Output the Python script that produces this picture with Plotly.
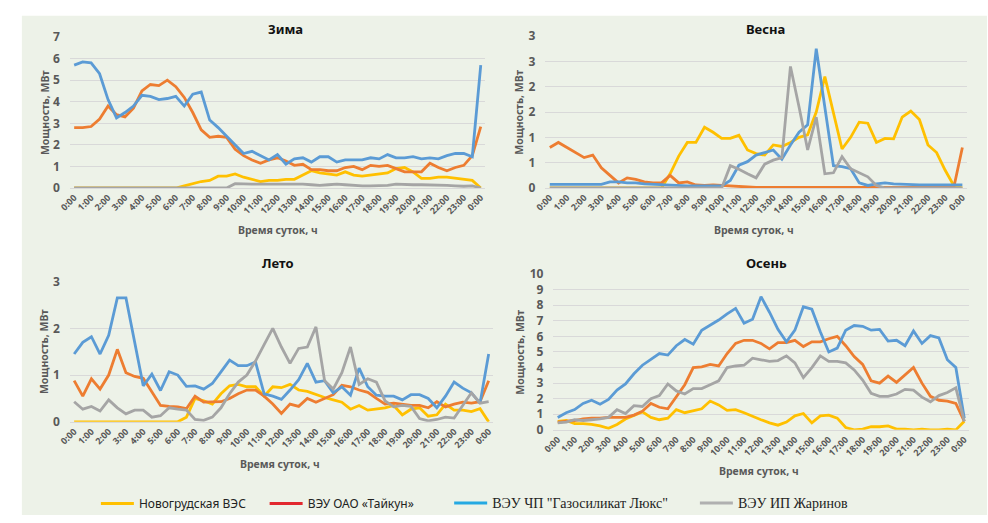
import plotly.graph_objects as go

# Half-hour time slots, expressed in hours since midnight
HOURS = [i / 2 for i in range(49)]
TICK_POS = list(range(25))
TICK_TEXT = ["0:00", "1:00", "2:00", "3:00", "4:00", "5:00", "6:00", "7:00", "8:00",
             "9:00", "10:00", "11:00", "12:00", "13:00", "14:00", "15:00", "16:00",
             "17:00", "18:00", "19:00", "20:00", "21:00", "22:00", "23:00", "0:00"]

SERIES_NAMES = ["Новогрудская ВЭС", "ВЭУ ОАО «Тайкун»",
                'ВЭУ ЧП "Газосиликат Люкс"', "ВЭУ ИП Жаринов"]

# ---- Зима ----
WINTER_NOV = [0] * 13 + [0.1, 0.2, 0.3, 0.35, 0.55, 0.55, 0.65, 0.5, 0.4, 0.3, 0.35, 0.35,
                         0.4, 0.4, 0.6, 0.8, 0.7, 0.65, 0.6, 0.75, 0.6, 0.55, 0.6, 0.65,
                         0.7, 0.9, 0.95, 0.75, 0.45, 0.45, 0.5, 0.5, 0.45, 0.4, 0.35, 0.0]
WINTER_TAIK = [2.8, 2.8, 2.85, 3.2, 3.8, 3.4, 3.3, 3.7, 4.5, 4.8,
               4.75, 5.0, 4.7, 4.2, 3.5, 2.7, 2.35, 2.4, 2.35, 1.8,
               1.5, 1.3, 1.15, 1.3, 1.4, 1.25, 1.05, 1.1, 0.85, 0.85,
               0.8, 0.8, 0.95, 1.0, 0.85, 1.05, 1.0, 1.05, 0.9, 0.75,
               0.75, 0.75, 1.15, 0.95, 0.8, 0.95, 1.05, 1.5, 2.85]
WINTER_GAZ = [5.7, 5.85, 5.8, 5.3, 4.1, 3.25, 3.5, 3.8, 4.3, 4.25,
              4.1, 4.15, 4.25, 3.8, 4.35, 4.45, 3.15, 2.8, 2.4, 2.0,
              1.6, 1.7, 1.5, 1.3, 1.55, 1.1, 1.35, 1.4, 1.2, 1.45,
              1.45, 1.2, 1.3, 1.3, 1.3, 1.4, 1.35, 1.55, 1.4, 1.4,
              1.45, 1.35, 1.4, 1.35, 1.5, 1.6, 1.6, 1.45, 5.7]
WINTER_ZHAR = [0] * 19 + [0.2, 0.18, 0.18, 0.18, 0.18, 0.18, 0.2, 0.2, 0.18, 0.15,
                          0.12, 0.15, 0.18, 0.15, 0.12, 0.1, 0.1, 0.1, 0.12, 0.18,
                          0.15, 0.15, 0.15, 0.15, 0.12, 0.12, 0.1, 0.08, 0.1, 0.0]

# ---- Весна ----
SPRING_NOV = [0] * 14 + [0.28, 0.63, 0.9, 0.9, 1.2, 1.1, 0.98, 0.98, 1.04, 0.75,
                         0.68, 0.65, 0.85, 0.82, 0.9, 1.0, 1.05, 1.5, 2.2, 1.5,
                         0.77, 1.0, 1.3, 1.28, 0.9, 0.98, 0.97, 1.4, 1.52, 1.35,
                         0.85, 0.7, 0.35, 0.05, 0.0]
SPRING_TAIK = [0.8, 0.9, 0.8, 0.7, 0.6, 0.65, 0.4, 0.25, 0.1, 0.2,
               0.17, 0.12, 0.1, 0.1, 0.25, 0.1, 0.12, 0.06, 0.05, 0.06,
               0.05, 0.03, 0.02] + [0.01] * 25 + [0.8]
SPRING_GAZ = [0.07, 0.07, 0.07, 0.07, 0.07, 0.07, 0.07, 0.12, 0.12, 0.1,
              0.1, 0.08, 0.07, 0.06, 0.06, 0.04, 0.04, 0.04, 0.04, 0.04,
              0.04, 0.15, 0.45, 0.52, 0.65, 0.7, 0.75, 0.57, 0.85, 1.1,
              1.25, 2.75, 1.6, 0.44, 0.42, 0.38, 0.1, 0.05, 0.08, 0.1,
              0.08, 0.07, 0.07, 0.06, 0.06, 0.06, 0.06, 0.06, 0.06]
SPRING_ZHAR = [0] * 21 + [0.44, 0.37, 0.28, 0.2, 0.47, 0.55, 0.6, 2.4, 1.6, 0.75,
                          1.4, 0.28, 0.3, 0.62, 0.38, 0.3, 0.22, 0.05] + [0] * 10

# ---- Лето ----
SUMMER_NOV = [0] * 13 + [0.1, 0.5, 0.45, 0.38, 0.6, 0.77, 0.8, 0.75, 0.75, 0.55,
                         0.75, 0.73, 0.8, 0.68, 0.65, 0.58, 0.52, 0.47, 0.42, 0.27,
                         0.35, 0.25, 0.28, 0.3, 0.35, 0.15, 0.27, 0.3, 0.12, 0.15,
                         0.38, 0.25, 0.25, 0.22, 0.28, 0.0]
SUMMER_TAIK = [0.88, 0.55, 0.92, 0.7, 1.0, 1.55, 1.05, 0.97, 0.93, 0.65,
               0.35, 0.33, 0.32, 0.28, 0.55, 0.42, 0.42, 0.43, 0.5, 0.6,
               0.68, 0.68, 0.55, 0.38, 0.18, 0.38, 0.33, 0.5, 0.42, 0.5,
               0.58, 0.78, 0.75, 0.68, 0.63, 0.5, 0.38, 0.4, 0.37, 0.35,
               0.35, 0.3, 0.43, 0.32, 0.38, 0.42, 0.4, 0.43, 0.88]
SUMMER_GAZ = [1.45, 1.7, 1.82, 1.45, 1.85, 2.65, 2.65, 1.7, 0.77, 1.02,
              0.67, 1.07, 1.0, 0.76, 0.77, 0.7, 0.82, 1.07, 1.32, 1.2,
              1.2, 1.28, 0.6, 0.55, 0.48, 0.68, 0.9, 1.25, 0.85, 0.88,
              0.62, 0.75, 0.57, 1.15, 0.75, 0.57, 0.55, 0.55, 0.47, 0.58,
              0.58, 0.5, 0.3, 0.55, 0.85, 0.72, 0.62, 0.4, 1.45]
SUMMER_ZHAR = [0.43, 0.27, 0.33, 0.23, 0.47, 0.3, 0.17, 0.25, 0.25, 0.1,
               0.13, 0.3, 0.27, 0.25, 0.05, 0.03, 0.1, 0.3, 0.6, 0.85,
               1.0, 1.3, 1.65, 2.0, 1.6, 1.25, 1.57, 1.6, 2.03, 0.88,
               0.7, 1.05, 1.6, 0.8, 0.92, 0.85, 0.45, 0.32, 0.35, 0.33,
               0.07, 0.02, 0.05, 0.1, 0.08, 0.35, 0.62, 0.4, 0.43]

# ---- Осень ----
AUTUMN_NOV = [0.55, 0.6, 0.4, 0.4, 0.35, 0.25, 0.1, 0.35, 0.7, 0.95,
              1.15, 0.8, 0.65, 0.75, 1.3, 1.1, 1.25, 1.35, 1.85, 1.6,
              1.25, 1.3, 1.1, 0.85, 0.65, 0.45, 0.3, 0.5, 0.9, 1.05,
              0.45, 0.9, 0.95, 0.75, 0.15, 0.0, 0.05, 0.2, 0.2, 0.25,
              0.05, 0.05, 0.0, 0.05, 0.0, 0.0, 0.05, 0.0, 0.55]
AUTUMN_TAIK = [0.5, 0.55, 0.6, 0.7, 0.75, 0.75, 0.8, 0.8, 0.8, 0.95,
               1.2, 1.7, 1.45, 1.35, 2.1, 2.9, 4.0, 4.05, 4.2, 4.1,
               4.9, 5.55, 5.75, 5.75, 5.55, 5.2, 5.6, 5.6, 5.75, 5.35,
               5.65, 5.65, 5.85, 6.0, 5.4, 4.7, 4.2, 3.15, 3.0, 3.45,
               3.05, 3.5, 4.0, 3.0, 2.15, 1.9, 1.85, 1.7, 0.55]
AUTUMN_GAZ = [0.8, 1.1, 1.3, 1.7, 1.9, 1.65, 1.95, 2.55, 2.95, 3.6,
              4.15, 4.55, 4.9, 4.8, 5.4, 5.8, 5.5, 6.4, 6.7, 7.05,
              7.45, 7.8, 6.85, 7.1, 8.55, 7.55, 6.45, 5.65, 6.4, 7.9,
              7.75, 6.3, 5.0, 5.25, 6.4, 6.7, 6.65, 6.4, 6.45, 5.7,
              5.75, 5.4, 6.35, 5.55, 6.05, 5.9, 4.5, 4.0, 0.75]
AUTUMN_ZHAR = [0.45, 0.5, 0.65, 0.6, 0.65, 0.7, 0.8, 1.3, 1.05, 1.55,
               1.5, 2.0, 2.2, 2.95, 2.5, 2.3, 2.65, 2.65, 2.9, 3.15,
               4.0, 4.1, 4.15, 4.6, 4.5, 4.4, 4.45, 4.75, 4.3, 3.35,
               4.0, 4.75, 4.4, 4.4, 4.3, 3.85, 3.2, 2.35, 2.15, 2.15,
               2.3, 2.6, 2.55, 2.1, 1.8, 2.2, 2.4, 2.7, 0.55]

# Y tick values / labels per panel (spring axis uses whole-number format on 0.5 steps)
WINTER_YTICKS = [0, 1, 2, 3, 4, 5, 6, 7]
SPRING_YTICKS = [0, 0.5, 1, 1.5, 2, 2.5, 3]
SPRING_YTEXT = ["0", "1", "1", "2", "2", "3", "3"]
SUMMER_YTICKS = [0, 1, 2, 3]
AUTUMN_YTICKS = [0, 1, 2, 3, 4, 5, 6, 7, 8, 9, 10]

LINE_COLORS = ["#FFC000", "#ED7D31", "#5B9BD5", "#A5A5A5"]
LEGEND_COLORS = ["#FFC000", "#E2282F", "#25A9E2", "#B0B0B0"]

W, H = 988, 523
FONT = "Noto Sans, Open Sans, DejaVu Sans, sans-serif"
GREY_TXT = "#595959"


def px_x(px):
    return px / W


def px_y(py):
    return 1 - py / H


panels = [
    # (title, series, xaxis, yaxis, x-domain px, y-domain px (bottom, top), y range,
    #  y ticks, y tick text, title pos, x-title pos, y-title pos)
    ("Зима", [WINTER_NOV, WINTER_TAIK, WINTER_GAZ, WINTER_ZHAR], "x", "y",
     (58.7, 479.3), (185, 29), [0, 7], WINTER_YTICKS, None, (277, 21), (270, 228), (33, 107)),
    ("Весна", [SPRING_NOV, SPRING_TAIK, SPRING_GAZ, SPRING_ZHAR], "x2", "y2",
     (540.6, 967.4), (185, 28), [0, 3], SPRING_YTICKS, SPRING_YTEXT, (764, 21), (752, 228), (513, 107)),
    ("Лето", [SUMMER_NOV, SUMMER_TAIK, SUMMER_GAZ, SUMMER_ZHAR], "x3", "y3",
     (58.6, 487.4), (426.7, 281.7), [0, 3], SUMMER_YTICKS, None, (270, 263), (272, 470), (33, 354)),
    ("Осень", [AUTUMN_NOV, AUTUMN_TAIK, AUTUMN_GAZ, AUTUMN_ZHAR], "x4", "y4",
     (548.7, 969.3), (435, 274), [0, 10], AUTUMN_YTICKS, None, (765, 263), (757, 478), (515, 355)),
]

fig = go.Figure()
annotations = []
layout_axes = {}

for (title, series, xa, ya, xdom, ydom, yrange, yticks, ytext,
     tpos, xtpos, ytpos) in panels:
    for name, vals, color in zip(SERIES_NAMES, series, LINE_COLORS):
        fig.add_trace(go.Scatter(
            x=HOURS, y=vals, name=name, mode="lines", xaxis=xa, yaxis=ya,
            line=dict(color=color, width=2.8), showlegend=False,
        ))
    xkey = "xaxis" + xa[1:]
    ykey = "yaxis" + ya[1:]
    layout_axes[xkey] = dict(
        domain=[px_x(xdom[0]), px_x(xdom[1])], anchor=ya,
        range=[-0.25, 24.25], tickmode="array", tickvals=TICK_POS, ticktext=TICK_TEXT,
        tickangle=-45, tickfont=dict(family=FONT, size=9, color=GREY_TXT, weight="bold"),
        showgrid=False, zeroline=False, showline=True, linecolor="#D9D9D9", linewidth=1,
        ticks="", fixedrange=True,
    )
    layout_axes[ykey] = dict(
        domain=[px_y(ydom[0]), px_y(ydom[1])], anchor=xa,
        range=yrange, tickmode="array", tickvals=yticks,
        ticktext=ytext if ytext else [str(v) for v in yticks],
        tickfont=dict(family=FONT, size=12, color=GREY_TXT, weight="bold"),
        showgrid=True, gridcolor="#D9D9D9", gridwidth=1, zeroline=False, showline=False,
        ticks="", ticklabelstandoff=9, fixedrange=True,
    )
    annotations.append(dict(
        text=title, x=px_x(tpos[0]), y=px_y(tpos[1]), xref="paper", yref="paper",
        showarrow=False, xanchor="center", yanchor="middle",
        font=dict(family=FONT, size=13, color="#111111", weight="bold"),
    ))
    annotations.append(dict(
        text="Время суток, ч", x=px_x(xtpos[0]), y=px_y(xtpos[1]), xref="paper", yref="paper",
        showarrow=False, xanchor="center", yanchor="middle",
        font=dict(family=FONT, size=10.5, color=GREY_TXT, weight="bold"),
    ))
    annotations.append(dict(
        text="Мощность, МВт", x=px_x(ytpos[0]), y=px_y(ytpos[1]), xref="paper", yref="paper",
        showarrow=False, xanchor="center", yanchor="middle", textangle=-90,
        font=dict(family=FONT, size=10.5, color=GREY_TXT, weight="bold"),
    ))

# Legend entries along the bottom, one legend box per series
legend_fonts = [dict(family="Noto Sans, sans-serif", size=12, color="#222222"),
                dict(family="Noto Sans, sans-serif", size=12, color="#222222"),
                dict(family="Liberation Serif, serif", size=14, color="#222222"),
                dict(family="Liberation Serif, serif", size=14, color="#222222")]
legend_x = [85, 256, 443, 692]
legend_keys = ["legend", "legend2", "legend3", "legend4"]
legend_layout = {}
for name, color, key, lx, lf in zip(SERIES_NAMES, LEGEND_COLORS, legend_keys, legend_x, legend_fonts):
    fig.add_trace(go.Scatter(
        x=[None], y=[None], name=name, mode="lines", legend=key,
        line=dict(color=color, width=3), showlegend=True, xaxis="x", yaxis="y",
    ))
    legend_layout[key] = dict(
        x=px_x(lx), y=px_y(511), xanchor="left", yanchor="middle",
        orientation="h", bgcolor="rgba(0,0,0,0)", borderwidth=0,
        font=lf, itemwidth=33,
    )

fig.update_layout(
    width=W, height=H,
    margin=dict(l=0, r=0, t=0, b=0),
    paper_bgcolor="white", plot_bgcolor="rgba(0,0,0,0)",
    annotations=annotations,
    shapes=[dict(type="rect", xref="paper", yref="paper", x0=px_x(10), x1=1,
                 y0=0, y1=px_y(7), fillcolor="#EDF2E8", line=dict(width=0), layer="below")],
    **layout_axes,
    **legend_layout,
)

fig.write_html("out.html")
